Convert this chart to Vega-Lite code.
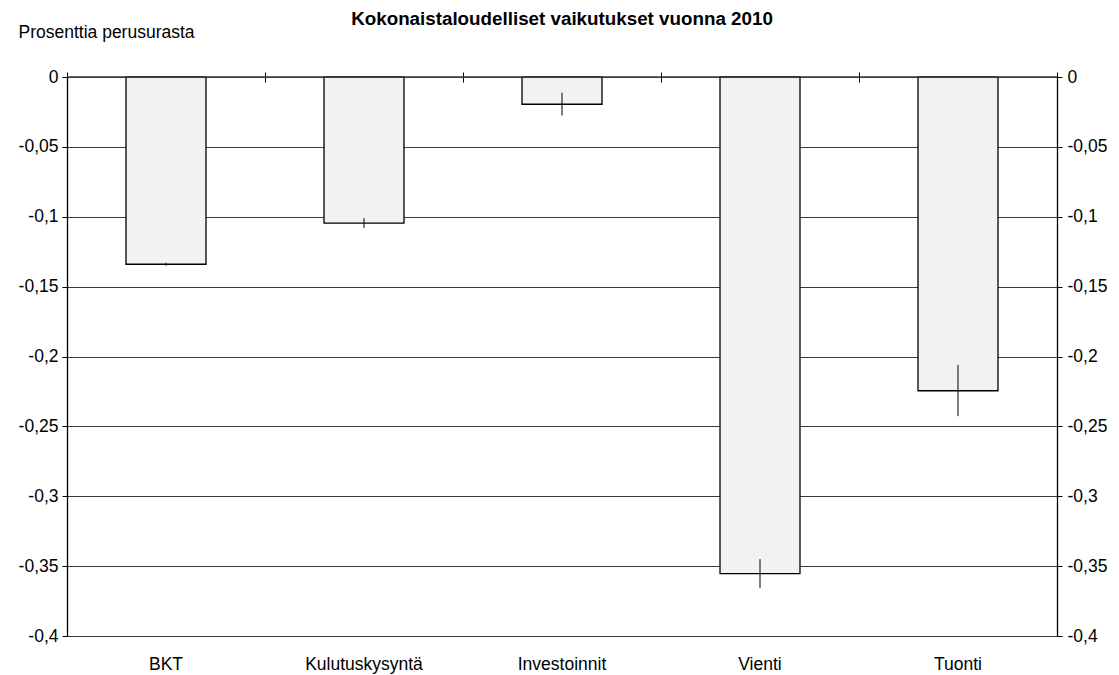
{
  "$schema": "https://vega.github.io/schema/vega-lite/v6.json",
  "width": 990,
  "height": 559,
  "autosize": {"type": "none"},
  "padding": {"left": 67, "top": 77, "right": 62, "bottom": 39},
  "background": "white",
  "config": {
    "font": "Liberation Sans",
    "view": {"stroke": null},
    "axis": {"labelFont": "Liberation Sans", "titleFont": "Liberation Sans", "labelColor": "black", "titleColor": "black"}
  },
  "title": {
    "text": "Kokonaistaloudelliset vaikutukset vuonna 2010",
    "font": "Liberation Sans",
    "fontSize": 18.8,
    "fontWeight": "bold",
    "color": "black",
    "anchor": "middle",
    "offset": -6
  },
  "data": {
    "values": [
      {"kategoria": "BKT", "arvo": -0.134, "ala": -0.133, "yla": -0.135},
      {"kategoria": "Kulutuskysyntä", "arvo": -0.1045, "ala": -0.101, "yla": -0.108},
      {"kategoria": "Investoinnit", "arvo": -0.0195, "ala": -0.0112, "yla": -0.0276},
      {"kategoria": "Vienti", "arvo": -0.3553, "ala": -0.345, "yla": -0.3656},
      {"kategoria": "Tuonti", "arvo": -0.2245, "ala": -0.206, "yla": -0.2427}
    ]
  },
  "resolve": {"axis": {"y": "independent", "x": "independent"}, "scale": {"x": "independent"}},
  "layer": [
    {
      "mark": {"type": "bar", "fill": "#f2f2f2", "stroke": "black", "strokeWidth": 1.3},
      "encoding": {
        "x": {
          "field": "kategoria",
          "type": "nominal",
          "sort": null,
          "scale": {"paddingInner": 0.596, "paddingOuter": 0.298},
          "axis": {
            "orient": "bottom",
            "title": null,
            "labelAngle": 0,
            "labelFontSize": 17.5,
            "labelPadding": 19,
            "ticks": false,
            "domain": false
          }
        },
        "y": {
          "field": "arvo",
          "type": "quantitative",
          "scale": {"domain": [-0.4, 0], "nice": false, "zero": false},
          "axis": {
            "orient": "left",
            "title": "Prosenttia perusurasta",
            "titleAngle": 0,
            "titleFontSize": 17.5,
            "titleFontWeight": "normal",
            "titleAlign": "left",
            "titleBaseline": "middle",
            "titleX": -49,
            "titleY": -45,
            "values": [0, -0.05, -0.1, -0.15, -0.2, -0.25, -0.3, -0.35, -0.4],
            "labelExpr": "replace(toString(datum.value), '.', ',')",
            "labelFontSize": 17.5,
            "labelPadding": 4,
            "tickColor": "black",
            "tickSize": 5,
            "domainColor": "black",
            "domainWidth": 1.3,
            "grid": true,
            "gridColor": "#3a3a3a",
            "gridOpacity": 1,
            "gridWidth": 1
          }
        }
      }
    },
    {
      "mark": {"type": "rule", "color": "black", "strokeWidth": 1},
      "encoding": {
        "x": {
          "field": "kategoria",
          "type": "nominal",
          "sort": null,
          "scale": {"paddingInner": 0, "paddingOuter": 0},
          "axis": {
            "orient": "top",
            "title": null,
            "labels": false,
            "domain": false,
            "ticks": true,
            "tickBand": "extent",
            "tickSize": 10,
            "offset": -5,
            "tickColor": "black"
          }
        },
        "y": {
          "field": "ala",
          "type": "quantitative",
          "axis": {
            "orient": "right",
            "title": null,
            "values": [0, -0.05, -0.1, -0.15, -0.2, -0.25, -0.3, -0.35, -0.4],
            "labelExpr": "replace(toString(datum.value), '.', ',')",
            "labelFontSize": 17.5,
            "labelPadding": 5,
            "tickColor": "black",
            "tickSize": 5,
            "domainColor": "black",
            "domainWidth": 1.3,
            "grid": false
          }
        },
        "y2": {"field": "yla"}
      }
    },
    {
      "data": {"values": [{"nolla": 0}]},
      "mark": {"type": "rule", "color": "#3a3a3a", "strokeWidth": 1.3},
      "encoding": {
        "y": {"field": "nolla", "type": "quantitative", "axis": null}
      }
    }
  ]
}
